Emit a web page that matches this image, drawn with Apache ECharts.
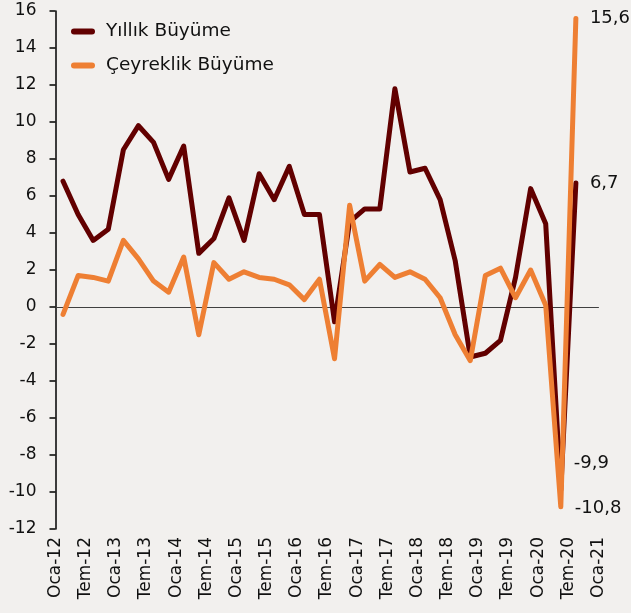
<!DOCTYPE html>
<html>
<head>
<meta charset="utf-8">
<script src="https://cdn.jsdelivr.net/npm/echarts@6/dist/echarts.min.js"></script>
<style>
html,body{margin:0;padding:0;background:#F2F0EE;}
#chart{width:631px;height:613px;}
</style>
</head>
<body>
<div id="chart"></div>
<script>
// Quarterly categories (Q1 2012 .. Q4 2020) used for the data
const quarters = ['Oca-12','Nis-12','Tem-12','Eki-12','Oca-13','Nis-13','Tem-13','Eki-13','Oca-14','Nis-14','Tem-14','Eki-14','Oca-15','Nis-15','Tem-15','Eki-15','Oca-16','Nis-16','Tem-16','Eki-16','Oca-17','Nis-17','Tem-17','Eki-17','Oca-18','Nis-18','Tem-18','Eki-18','Oca-19','Nis-19','Tem-19','Eki-19','Oca-20','Nis-20','Tem-20','Eki-20'];
// Tick labels shown on the axis (at quarter boundaries, every 2 quarters)
const tickLabels = ['Oca-12','','Tem-12','','Oca-13','','Tem-13','','Oca-14','','Tem-14','','Oca-15','','Tem-15','','Oca-16','','Tem-16','','Oca-17','','Tem-17','','Oca-18','','Tem-18','','Oca-19','','Tem-19','','Oca-20','','Tem-20','','Oca-21'];
const yillik = [6.8,5.0,3.6,4.2,8.5,9.8,8.9,6.9,8.7,2.9,3.7,5.9,3.6,7.2,5.8,7.6,5.0,5.0,-0.8,4.6,5.3,5.3,11.8,7.3,7.5,5.8,2.5,-2.7,-2.5,-1.8,1.6,6.4,4.5,-9.9,6.7];
const ceyreklik = [-0.4,1.7,1.6,1.4,3.6,2.6,1.4,0.8,2.7,-1.5,2.4,1.5,1.9,1.6,1.5,1.2,0.4,1.5,-2.8,5.5,1.4,2.3,1.6,1.9,1.5,0.5,-1.5,-2.9,1.7,2.1,0.5,2.0,0.1,-10.8,15.6];
const seriesNames = ['Yıllık Büyüme','Çeyreklik Büyüme'];
const yTicks = {min:-12, max:16, interval:2};

const FONT = 'DejaVu Sans';
const fmt = v => String(v).replace('.', ',');

function withLabels(arr, labelCfg) {
  return arr.map((v, i) => labelCfg[i] ? {value: v, label: Object.assign({show: true, formatter: p => fmt(p.value), color: '#111', fontFamily: FONT, fontSize: 18}, labelCfg[i])} : v);
}
const last = yillik.length - 1;
const yLbl = {}; yLbl[last] = {position: 'right', distance: 14}; yLbl[last-1] = {position: 'right', distance: 13, offset: [0, -27]};
const cLbl = {}; cLbl[last] = {position: 'right', distance: 14}; cLbl[last-1] = {position: 'right', distance: 14, offset: [0, 2]};

const chart = echarts.init(document.getElementById('chart'), null, {renderer: 'canvas'});
const capsule = 'path://M3,0H21A3,3 0 0 1 21,6H3A3,3 0 0 1 3,0Z';
chart.setOption({
  backgroundColor: '#F2F0EE',
  animation: false,
  grid: {left: 55.5, top: 11, width: 543, height: 518, containLabel: false},
  legend: {
    orient: 'vertical', left: 66, top: 17, itemGap: 15,
    itemWidth: 24, itemHeight: 6,
    data: [{name: seriesNames[0], icon: capsule}, {name: seriesNames[1], icon: capsule}],
    textStyle: {fontFamily: FONT, fontSize: 18.5, color: '#111', padding: [0,0,0,6]}
  },
  xAxis: [{
    type: 'category', data: quarters, boundaryGap: true, position: 'bottom',
    axisLine: {show: true, onZero: true, lineStyle: {color: '#404040', width: 1}},
    axisTick: {show: false}, axisLabel: {show: false}, splitLine: {show: false}
  }, {
    type: 'category', data: tickLabels, boundaryGap: false, position: 'bottom',
    axisLine: {show: false, onZero: false}, axisTick: {show: false}, splitLine: {show: false},
    axisLabel: {show: true, interval: 0, rotate: 90, margin: 8, fontFamily: FONT, fontSize: 17, color: '#111'}
  }],
  yAxis: {
    type: 'value', min: yTicks.min, max: yTicks.max, interval: yTicks.interval,
    axisLine: {show: true, onZero: false, lineStyle: {color: '#000', width: 1.5}},
    axisTick: {show: true, length: 6, inside: false, lineStyle: {color: '#000', width: 1.5}},
    splitLine: {show: false},
    axisLabel: {margin: 19, fontFamily: FONT, fontSize: 17, color: '#111'}
  },
  series: [{
    name: seriesNames[0], type: 'line', xAxisIndex: 0, data: withLabels(yillik, yLbl),
    showSymbol: true, symbol: 'circle', symbolSize: 0, color: '#620000',
    lineStyle: {color: '#620000', width: 5, cap: 'round', join: 'round'}
  }, {
    name: seriesNames[1], type: 'line', xAxisIndex: 0, data: withLabels(ceyreklik, cLbl),
    showSymbol: true, symbol: 'circle', symbolSize: 0, color: '#EE7F33',
    lineStyle: {color: '#EE7F33', width: 5, cap: 'round', join: 'round'}
  }]
});
</script>
</body>
</html>
